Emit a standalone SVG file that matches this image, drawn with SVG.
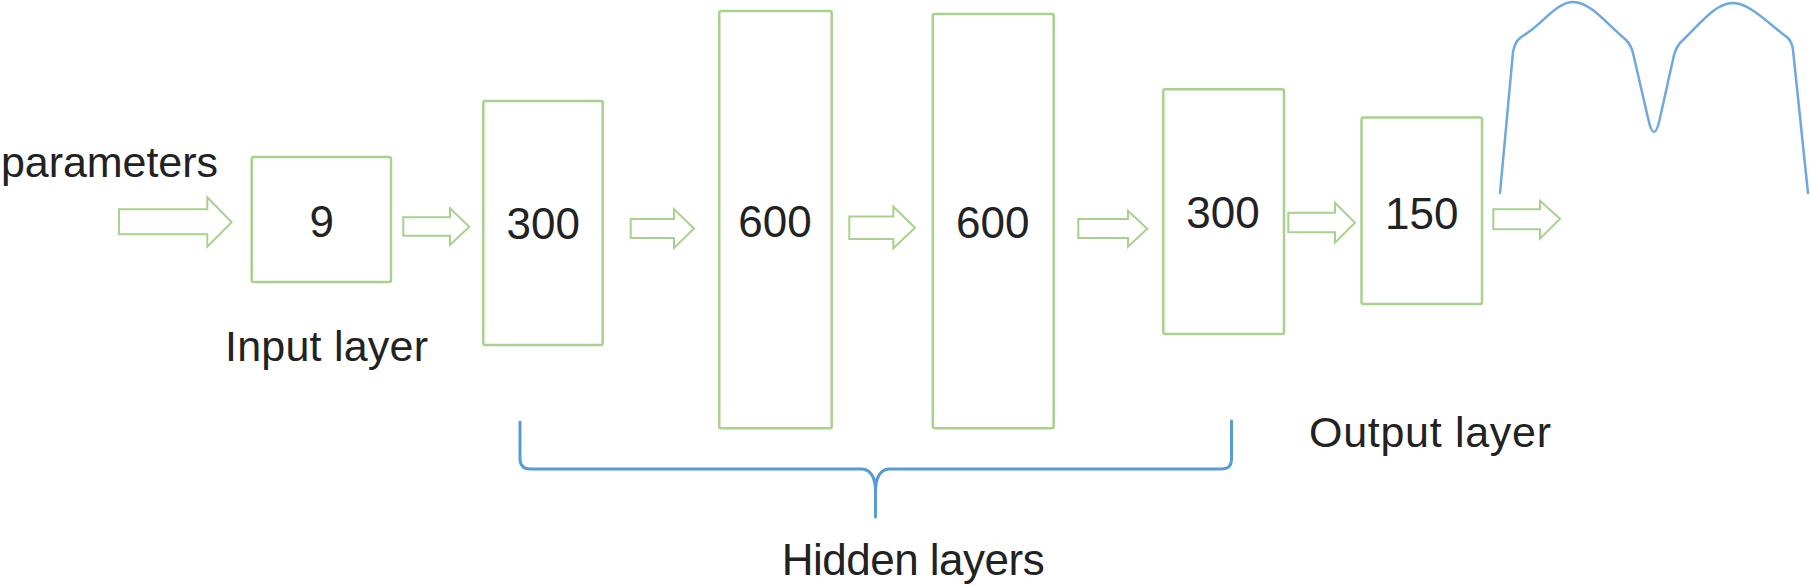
<svg xmlns="http://www.w3.org/2000/svg" width="1811" height="586" viewBox="0 0 1811 586">
<style>
.box{fill:#fff;stroke:#a9d18e;stroke-width:2.5}
.arr{fill:#fff;stroke:#a9d18e;stroke-width:2;stroke-linejoin:miter}
.num{font-family:"Liberation Sans",Arial,sans-serif;font-size:44px;fill:#222;text-anchor:middle}
.lbl{font-family:"Liberation Sans",Arial,sans-serif;font-size:43px;fill:#222}
.blue{fill:none;stroke:#6fa8dc;stroke-width:2.5;stroke-linejoin:round;stroke-linecap:round}
.brace{fill:none;stroke:#5b9bd5;stroke-width:3;stroke-linecap:round}
</style>
<rect width="1811" height="586" fill="#fff"/>
<text class="lbl" x="1" y="177" textLength="217">parameters</text>
<g id="node-input">
<rect class="box" x="251.7" y="157" width="139.3" height="125" rx="2"/>
<text class="num" x="321.7" y="237.3">9</text>
</g>
<g id="node-h1">
<rect class="box" x="483.3" y="101" width="119.4" height="244" rx="2"/>
<text class="num" x="543.3" y="239.3">300</text>
</g>
<g id="node-h2">
<rect class="box" x="719.3" y="11" width="112.4" height="417.3" rx="2"/>
<text class="num" x="775" y="236.7">600</text>
</g>
<g id="node-h3">
<rect class="box" x="932.8" y="14" width="120.9" height="414.3" rx="2"/>
<text class="num" x="992.7" y="238">600</text>
</g>
<g id="node-h4">
<rect class="box" x="1163.3" y="89.3" width="120.7" height="244.7" rx="2"/>
<text class="num" x="1223" y="227.5">300</text>
</g>
<g id="node-output">
<rect class="box" x="1361.5" y="117.5" width="120.5" height="186.5" rx="2"/>
<text class="num" x="1421.7" y="229">150</text>
</g>
<g id="connectors">
<polygon class="arr" points="119,209.3 207.3,209.3 207.3,197.3 231.7,222.3 207.3,246.7 207.3,234.3 119,234.3"/>
<polygon class="arr" points="403.3,217.3 450,217.3 450,208.3 469.3,226.7 450,245 450,235.7 403.3,235.7"/>
<polygon class="arr" points="630.7,219 674,219 674,209 694,228.5 674,248 674,238 630.7,238"/>
<polygon class="arr" points="849.3,216.5 893.3,216.5 893.3,206.7 915,227.7 893.3,248.3 893.3,239 849.3,239"/>
<polygon class="arr" points="1078.3,219 1128,219 1128,210.7 1147.3,228.7 1128,246.7 1128,238 1078.3,238"/>
<polygon class="arr" points="1288.3,212.7 1335,212.7 1335,202.7 1355,222.7 1335,242.7 1335,232.3 1288.3,232.3"/>
<polygon class="arr" points="1493.3,209.3 1540,209.3 1540,200.7 1560,218.7 1540,238.7 1540,229.3 1493.3,229.3"/>
</g>
<g id="output-curve">
<path class="blue" d="M1500,193 L1513,52 Q1515,42 1520,38 L1530,31 C1545,20 1558,2 1573,2 C1590,2 1605,22 1626,40 Q1631,45 1633,53 L1648,118 Q1654,146 1660,118 L1674,55 Q1677,45 1683,40 C1700,24 1715,3 1733,3 C1750,3 1770,25 1788,38 Q1792,42 1793,50 L1808,193"/>
</g>
<g id="hidden-brace">
<path class="brace" d="M520,422 L520,460 Q521,469 530,469 L862,469 Q875.5,470 875.5,492 L875.5,517 M875.5,492 Q875.5,470 889,469 L1222,469 Q1231,469 1231.5,460 L1231.5,421"/>
</g>
<text class="lbl" x="225" y="361" textLength="203">Input layer</text>
<text class="lbl" x="781.7" y="575" font-size="44" textLength="263" style="font-size:44px">Hidden layers</text>
<text class="lbl" x="1309" y="446.7" textLength="242">Output layer</text>
</svg>
